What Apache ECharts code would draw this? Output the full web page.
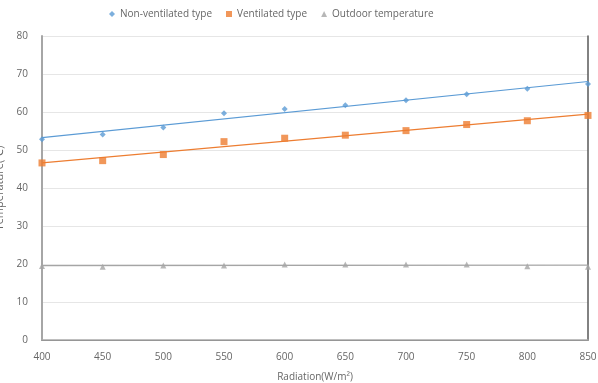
<!DOCTYPE html>
<html>
<head>
<meta charset="utf-8">
<script src="https://cdn.jsdelivr.net/npm/echarts@6/dist/echarts.min.js"></script>
<style>
  html, body { margin: 0; padding: 0; background: #fff; }
  #chart { width: 598px; height: 383px; }
</style>
</head>
<body>
<div id="chart"></div>
<script>
// 辐射强度 (W/m2)
var radiation = [400, 450, 500, 550, 600, 650, 700, 750, 800, 850];
// 温度数据
var nonVentilated = [52.8, 54.1, 55.9, 59.7, 60.8, 61.8, 63.1, 64.7, 66.1, 67.4];
var ventilated = [46.6, 47.2, 48.8, 52.2, 53.1, 53.9, 55.1, 56.7, 57.7, 59.1];
var outdoor = [19.5, 19.3, 19.6, 19.6, 19.9, 19.9, 19.9, 19.9, 19.4, 19.3];

var seriesNames = ['Non-ventilated type', 'Ventilated type', 'Outdoor temperature'];
var colors = ['#5B9BD5', '#ED7D31', '#A5A5A5'];

function pairs(ys) {
    return radiation.map(function (x, i) { return [x, ys[i]]; });
}

// 线性趋势线 (最小二乘)
function trend(ys) {
    var n = radiation.length, sx = 0, sy = 0, sxy = 0, sxx = 0;
    for (var i = 0; i < n; i++) {
        sx += radiation[i]; sy += ys[i];
        sxy += radiation[i] * ys[i]; sxx += radiation[i] * radiation[i];
    }
    var b = (n * sxy - sx * sy) / (n * sxx - sx * sx);
    var a = (sy - b * sx) / n;
    var x0 = radiation[0], x1 = radiation[n - 1];
    return [[x0, a + b * x0], [x1, a + b * x1]];
}

var chart = echarts.init(document.getElementById('chart'));

function pointSeries(name, data, symbol, size, color) {
    return {
        name: name,
        type: 'scatter',
        data: pairs(data),
        symbol: symbol,
        symbolSize: size,
        itemStyle: { color: color },
        z: 3
    };
}

function trendSeries(data, color) {
    return {
        type: 'line',
        data: trend(data),
        showSymbol: false,
        silent: true,
        lineStyle: { color: color, width: 1.2 },
        z: 2
    };
}

var labelStyle = { color: '#666666', fontSize: 10, fontFamily: 'Open Sans' };

var option = {
    animation: false,
    grid: { left: 42, right: 10, top: 36, bottom: 43, outerBoundsMode: 'none', containLabel: false },
    legend: {
        data: seriesNames,
        top: 4,
        left: 104,
        itemWidth: 6,
        itemHeight: 6,
        itemGap: 14,
        textStyle: { color: '#666666', fontSize: 10, fontFamily: 'Open Sans' }
    },
    xAxis: [{
        type: 'value',
        min: 400,
        max: 850,
        interval: 50,
        name: 'Radiation(W/m²)',
        nameLocation: 'middle',
        nameGap: 32,
        nameTextStyle: labelStyle,
        axisLine: { show: true, lineStyle: { color: '#595959', width: 1 } },
        axisTick: { show: false },
        splitLine: { show: false },
        axisLabel: Object.assign({ margin: 12 }, labelStyle)
    }, {
        type: 'value',
        position: 'top',
        min: 400,
        max: 850,
        axisLine: { show: true, lineStyle: { color: '#ABABAB', width: 1.5 } },
        axisTick: { show: false },
        axisLabel: { show: false },
        splitLine: { show: false }
    }],
    yAxis: [{
        type: 'value',
        min: 0,
        max: 80,
        interval: 10,
        name: 'Temperature(℃)',
        nameLocation: 'middle',
        nameGap: 34,
        nameTextStyle: { color: '#666666', fontSize: 11, fontFamily: 'Open Sans' },
        axisLine: { show: true, lineStyle: { color: '#A6A6A6', width: 2 } },
        axisTick: { show: false },
        splitLine: { lineStyle: { color: '#E6E6E6', width: 1 } },
        axisLabel: Object.assign({ margin: 14 }, labelStyle)
    }, {
        type: 'value',
        position: 'right',
        min: 0,
        max: 80,
        axisLine: { show: true, lineStyle: { color: '#595959', width: 1.5 } },
        axisTick: { show: false },
        axisLabel: { show: false },
        splitLine: { show: false }
    }],
    series: [
        trendSeries(nonVentilated, colors[0]),
        trendSeries(ventilated, colors[1]),
        trendSeries(outdoor, colors[2]),
        pointSeries(seriesNames[0], nonVentilated, 'diamond', 6, colors[0]),
        pointSeries(seriesNames[1], ventilated, 'rect', 7, colors[1]),
        pointSeries(seriesNames[2], outdoor, 'triangle', 6, colors[2])
    ]
};

chart.setOption(option);
</script>
</body>
</html>
